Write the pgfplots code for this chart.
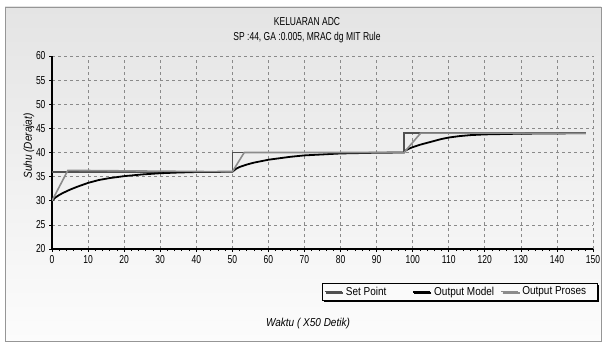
\documentclass[border=0pt]{standalone}
\usepackage{fontspec}
\setmainfont{Liberation Sans}[FakeStretch=0.74]
\newfontfamily\widefont{Liberation Sans}[FakeStretch=0.87]
\usepackage{pgfplots}
\pgfplotsset{compat=1.18}
\usetikzlibrary{shadows}
\definecolor{spcol}{HTML}{505050}
\definecolor{prcol}{HTML}{8C8C8C}
\definecolor{gridcol}{HTML}{8A8A8A}
\begin{document}
\begin{tikzpicture}[x=1pt,y=1pt]
\fill[white] (0,0) rectangle (602,343);
\shade[top color={rgb,255:red,228;green,228;blue,228}, bottom color={rgb,255:red,252;green,252;blue,252}] (5,2) rectangle (601,336);
\draw[color={rgb,255:red,150;green,150;blue,150}, line width=0.8pt] (5,2) rectangle (601,336);
\node[font=\fontsize{11.5}{13}\selectfont] at (307,321) {KELUARAN ADC};
\node[font=\fontsize{11.5}{13}\selectfont] at (307,305) {SP :44, GA :0.005, MRAC dg MIT Rule};
\node[font=\widefont\fontsize{11.5}{13}\selectfont\itshape, rotate=90] at (29,197) {Suhu (Derajat)};
\node[font=\widefont\fontsize{11.5}{13}\selectfont\itshape] at (308,19) {Waktu ( X50 Detik)};
\begin{axis}[
  at={(52pt,94pt)}, anchor=south west,
  scale only axis, width=541pt, height=193pt,
  xmin=0, xmax=150, ymin=20, ymax=60,
  xtick={0,10,...,150}, ytick={20,25,...,60},
  minor x tick num=4,
  axis x line*=bottom, axis y line*=left,
  axis line style={-, black, line width=1.2pt},
  tick align=outside,
  major tick length=3pt, minor tick length=2pt,
  tick style={black, line width=0.7pt},
  grid=major,
  major grid style={gridcol, line width=0.7pt, dash pattern=on 3pt off 3pt},
  ticklabel style={font=\fontsize{11.5}{13}\selectfont},
  /pgf/number format/assume math mode=true,
  legend columns=3,
  legend style={at={(0.499,-0.176)}, anchor=north west, draw=black, line width=0.6pt,
    fill={rgb,255:red,250;green,250;blue,250},
    font=\widefont\fontsize{11.5}{13}\selectfont,
    inner sep=1.5pt,
    drop shadow={shadow xshift=1.6pt, shadow yshift=-1.6pt, fill=black, opacity=1},
    row sep=0pt},
  legend cell align=left,
  legend image code/.code={\draw[#1] (0pt,0pt) -- (17pt,0pt);},
]
\addplot[spcol, line width=1.6pt] coordinates {(0,36) (50,36) (50,40) (97.6,40) (97.6,44) (148,44)};
\addlegendentry{\hspace{1.5pt}\makebox[64pt][l]{Set Point}}
\addplot[black, line width=1.8pt] coordinates {
(0,30) (1,30.7) (2,31.2) (3,31.6) (5,32.3) (7,32.9) (10,33.7) (13,34.3) (16,34.7) (20,35.1) (25,35.45) (30,35.7) (35,35.85) (40,35.95) (50,36)
(51,36.6) (52,37.0) (54,37.5) (56,37.9) (58,38.2) (60,38.5) (63,38.8) (66,39.1) (70,39.4) (75,39.6) (80,39.8) (90,39.95) (97.6,40)
(98,40.4) (99,40.8) (100,41.1) (102,41.6) (104,42.0) (106,42.4) (108,42.8) (110,43.1) (113,43.4) (116,43.6) (120,43.75) (130,43.9) (148,44)};
\addlegendentry{\hspace{1.5pt}\makebox[64pt][l]{Output Model}}
\addplot[prcol, line width=1.6pt] coordinates {(0,30) (4.4,36.3) (50,36) (53.3,40) (97.6,40) (102.2,44) (148,44)};
\addlegendentry{\hspace{1.5pt}\makebox[72pt][l]{Output Proses}}
\end{axis}
\pgfresetboundingbox
\path (0,0) rectangle (602,343);
\end{tikzpicture}
\end{document}
